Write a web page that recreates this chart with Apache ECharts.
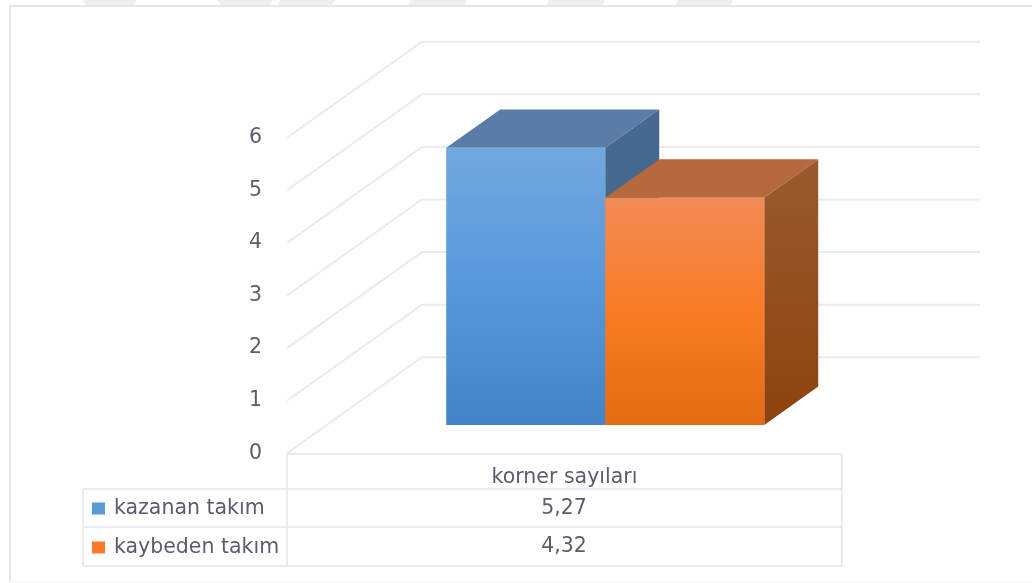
<!DOCTYPE html>
<html><head><meta charset="utf-8">
<style>html,body{margin:0;padding:0;background:#fff}#c{width:1032px;height:583px;filter:blur(0.4px)}</style>
<script src="https://cdn.jsdelivr.net/npm/echarts@6/dist/echarts.min.js"></script>
</head><body><div id="c"></div>
<script>
const categories = ['korner sayıları'];
const seriesNames = ['kazanan takım', 'kaybeden takım'];
const kazanan = [5.27];
const kaybeden = [4.32];
const tableText = ['5,27', '4,32'];
const yTicks = [0, 1, 2, 3, 4, 5, 6];

const FONT = 'DejaVu Sans';
const FS = 20.5;
const TXT = '#5a5d6e';
const GRID = '#e8ebf1';
const DX = 135, DY = 96;        // oblique depth of the floor
const T0 = 0.295, T1 = 0.695;   // bar depth, as a share of the floor
const BAND = 0.2865;            // bar width, as a share of the category band
const NUDGE = 0.9;

const looks = [
  { key: '#5b9bd5', front: ['#72a7de', '#5698dc', '#4384c8'], top: '#5a7ca6', side: ['#47698f', '#3f668d'] },
  { key: '#f97a26', front: ['#f28b55', '#f97b25', '#e46a14'], top: '#b5693c', side: ['#9b5a30', '#8e430c'] }
];
const vGrad = c => ({ type: 'linear', x: 0, y: 0, x2: 0, y2: 1,
  colorStops: c.map((col, i) => ({ offset: i / (c.length - 1), color: col })) });

function barItem(idx) {
  return function (params, api) {
    const v = api.value(1);
    const base = api.coord([0, 0]), topP = api.coord([0, v]);
    const bw = api.size([1, 0])[0];
    const w = bw * BAND;
    const l = base[0] - w + (idx * w) + T0 * DX + NUDGE;
    const r = l + w;
    const yb = base[1] - T0 * DY, yt = topP[1] - T0 * DY;
    const ox = (T1 - T0) * DX, oy = (T1 - T0) * DY;
    const lk = looks[idx];
    const poly = (pts, fill) => ({ type: 'polygon', shape: { points: pts }, style: { fill: fill } });
    return { type: 'group', children: [
      poly([[l, yt], [r, yt], [r + ox, yt - oy], [l + ox, yt - oy]], lk.top),
      poly([[r, yt], [r + ox, yt - oy], [r + ox, yb - oy], [r, yb]], vGrad(lk.side)),
      poly([[l, yt], [r, yt], [r, yb], [l, yb]], vGrad(lk.front))
    ]};
  };
}

function wallItem(params, api) {
  const v = api.value(1);
  const p = api.coord([0, v]);
  const bw = api.size([1, 0])[0];
  const x0 = p[0] - bw / 2, y0 = p[1];
  return { type: 'polyline',
    shape: { points: [[x0, y0], [x0 + DX, y0 - DY], [x0 + bw + DX + 3, y0 - DY]] },
    style: { stroke: GRID, lineWidth: 2, fill: null } };
}

const line = (x1, y1, x2, y2, stroke, lw) => ({ type: 'line', silent: true,
  shape: { x1, y1, x2, y2 }, style: { stroke: stroke || GRID, lineWidth: lw || 2 } });
const wm = pts => ({ type: 'polygon', silent: true, shape: { points: pts }, style: { fill: '#eeeeee' } });
const cell = (t, y) => ({ type: 'text', silent: true, x: 564, y: y,
  style: { text: t, font: FS + 'px "' + FONT + '"', fill: TXT, align: 'center', verticalAlign: 'middle' } });

const graphics = [
  wm([[82,0],[137,0],[134,6],[88,6]]),
  wm([[217,0],[273,0],[270,6],[222,6]]),
  wm([[280,0],[335,0],[331,6],[277,6]]),
  wm([[411,0],[467,0],[464,6],[408,6]]),
  wm([[549,0],[605,0],[602,6],[546,6]]),
  wm([[678,0],[733,0],[730,6],[675,6]]),
  line(10, 6, 1032, 6, '#e3e7ee'),
  line(10, 6, 10, 582, '#e3e7ee'),
  line(10, 582, 1032, 582, '#f3f3f3', 1),
  line(287, 454, 842, 454),
  line(83, 489, 842, 489),
  line(83, 527, 842, 527),
  line(83, 566, 842, 566),
  line(83, 489, 83, 566),
  line(287, 454, 287, 566),
  line(842, 454, 842, 566),
  cell(tableText[0], 508.5),
  cell(tableText[1], 546.5)
];

const chart = echarts.init(document.getElementById('c'), null, { renderer: 'canvas' });
chart.setOption({
  animation: false,
  backgroundColor: '#fff',
  grid: { left: 287, top: 137.7, width: 555, height: 315.6, containLabel: false },
  legend: {
    orient: 'vertical', left: 92, top: 498, padding: 0, selectedMode: false,
    itemWidth: 13, itemHeight: 12, itemGap: 18, icon: 'rect',
    data: seriesNames,
    textStyle: { fontFamily: FONT, fontSize: FS, lineHeight: 20, color: TXT, padding: [0, 0, 0, 4] }
  },
  xAxis: { type: 'category', data: categories,
    axisLine: { show: false }, axisTick: { show: false }, splitLine: { show: false },
    axisLabel: { fontFamily: FONT, fontSize: FS, color: TXT, margin: 14 } },
  yAxis: { type: 'value', min: 0, max: 6, interval: 1,
    axisLine: { show: false }, axisTick: { show: false }, splitLine: { show: false },
    axisLabel: { fontFamily: FONT, fontSize: FS, color: TXT, margin: 25, padding: [3, 0, 0, 0] } },
  graphic: graphics,
  series: [
    { type: 'custom', name: 'walls', silent: true, z: 1, renderItem: wallItem,
      data: yTicks.map(v => [0, v]), encode: { x: 0, y: 1 } },
    { type: 'custom', name: seriesNames[0], z: 2, renderItem: barItem(0), itemStyle: { color: looks[0].key },
      data: kazanan.map((v, i) => [i, v]), encode: { x: 0, y: 1 } },
    { type: 'custom', name: seriesNames[1], z: 3, renderItem: barItem(1), itemStyle: { color: looks[1].key },
      data: kaybeden.map((v, i) => [i, v]), encode: { x: 0, y: 1 } }
  ]
});
</script></body></html>
